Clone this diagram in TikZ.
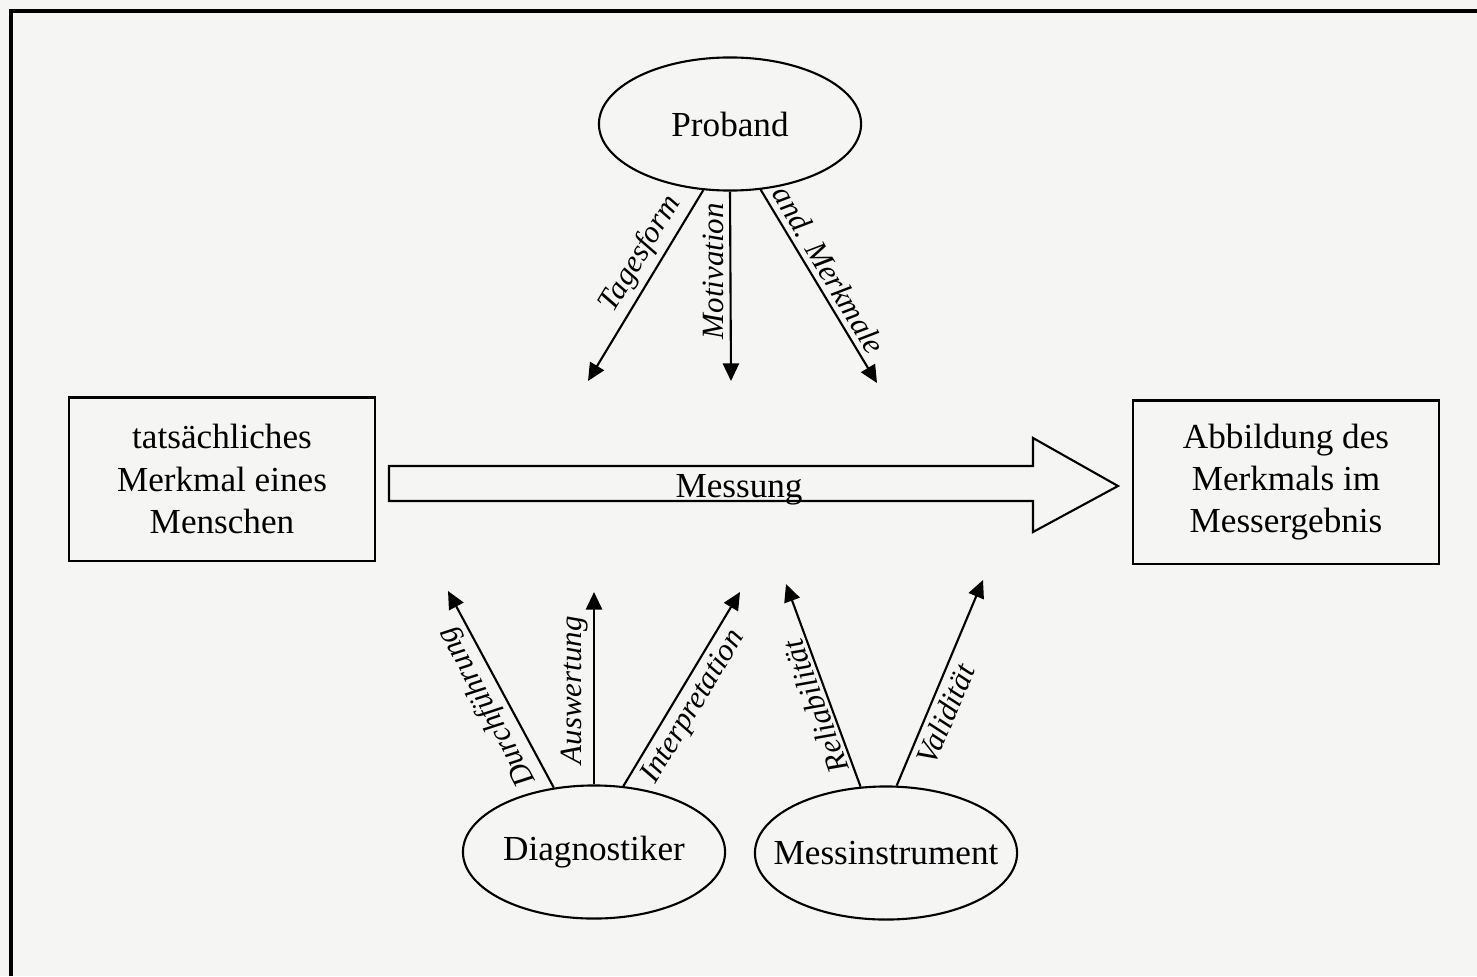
\documentclass[tikz,border=0pt]{standalone}
\usepackage{fontspec}
\setmainfont{Liberation Serif}
\usepackage{tikz}
\usetikzlibrary{arrows.meta, positioning, calc, shapes.geometric}
\definecolor{paper}{RGB}{245,245,244}

\tikzset{
    box/.style={draw, line width=0.6pt, minimum width=3.05cm, minimum height=1.63cm,
        align=center, font=\fontsize{10}{12}\selectfont},
    oval/.style={draw, ellipse, line width=0.6pt, inner sep=0pt, minimum width=2.62cm,
        minimum height=1.33cm, font=\fontsize{10}{12}\selectfont},
    pfeil/.style={line width=0.6pt, -{Triangle[length=5pt, width=4.6pt]}},
    lab/.style={font=\fontsize{8.8}{10}\selectfont\itshape, inner sep=1.5pt},
}

\begin{document}
\begin{tikzpicture}[x=0.01cm, y=-0.01cm]
    % Paper
    \fill[paper] (0, 0) rectangle (1477, 976);
    \useasboundingbox (0, 0) rectangle (1477, 976);
    \draw[line width=0.9pt] (11, 976) -- (11, 11) -- (1477, 11);

    % Boxes
    \node[box] (merkmal) at (222, 479) {tatsächliches\\Merkmal eines\\Menschen};
    \node[box] (abbild) at (1286, 482) {Abbildung des\\Merkmals im\\Messergebnis};

    % Messung
    \draw[line width=0.6pt, fill=paper] (389, 466) -- (1033, 466) -- (1033, 438) -- (1118, 486)
        -- (1033, 532) -- (1033, 501) -- (389, 501) -- cycle;
    \node[anchor=base, font=\fontsize{10}{12}\selectfont, inner sep=0pt] (messung) at (739, 497) {Messung};

    % Ovals
    \node[oval] (proband) at (730, 124) {\makebox[0pt]{Proband}};
    \node[oval] (diag) at (594, 852) {\makebox[0pt]{Diagnostiker}};
    \node[oval] (instr) at (886, 853) {\makebox[0pt]{Messinstrument}};

    % Ends
    \coordinate (tag) at (588, 381);
    \coordinate (mot) at (731, 381);
    \coordinate (mkm) at (877, 383);
    \coordinate (dur) at (448, 591);
    \coordinate (aus) at (594, 592);
    \coordinate (int) at (740, 592);
    \coordinate (rel) at (786, 584);
    \coordinate (val) at (983, 580);

    % Proband
    \draw[pfeil] (proband.-112) -- (tag)
        node[lab, pos=0.39, rotate=59, anchor=south] {Tagesform};
    \draw[pfeil] (proband.south) -- (mot)
        node[lab, pos=0.42, rotate=90, anchor=south] {Motivation};
    \draw[pfeil] (proband.-65) -- (mkm)
        node[lab, pos=0.46, rotate=-59, anchor=south] {and. Merkmale};

    % Diagnostiker
    \draw[pfeil] (diag.122) -- (dur)
        node[lab, pos=0.46, rotate=118, anchor=south] {Durchführung};
    \draw[pfeil] (diag.north) -- (aus)
        node[lab, pos=0.49, rotate=90, anchor=south] {Auswertung};
    \draw[pfeil] (diag.66) -- (int)
        node[lab, pos=0.46, rotate=59, anchor=north] {Interpretation};

    % Messinstrument
    \draw[pfeil] (instr.111) -- (rel)
        node[lab, pos=0.42, rotate=110, anchor=south, inner sep=0.8pt] {Reliabilität};
    \draw[pfeil] (instr.81) -- (val)
        node[lab, pos=0.38, rotate=67, anchor=north] {Validität};
\end{tikzpicture}
\end{document}
